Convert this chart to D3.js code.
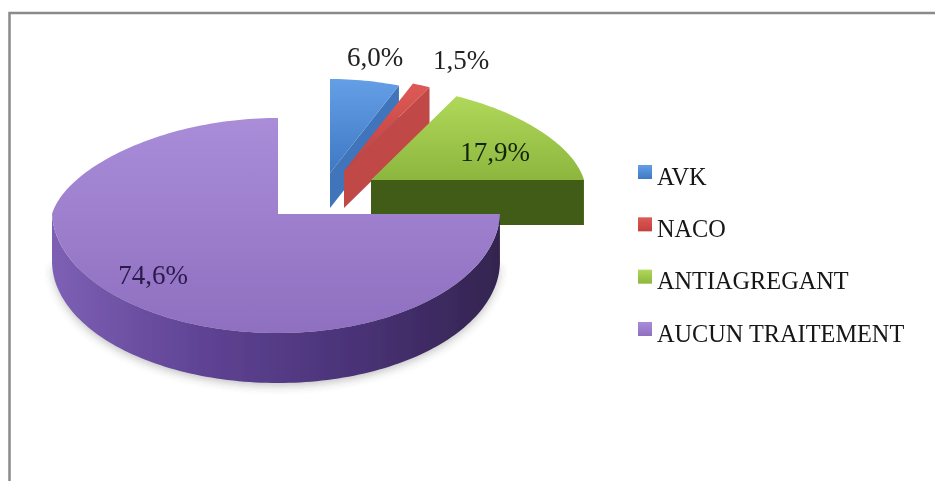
<!DOCTYPE html>
<html>
<head>
<meta charset="utf-8">
<script src="https://cdnjs.cloudflare.com/ajax/libs/d3/7.8.5/d3.min.js"></script>
<style>
  html, body { margin: 0; background: #fff; }
  svg { display: block; }
</style>
</head>
<body>
<div id="chart"></div>
<script>
const categories = ['AVK', 'NACO', 'ANTIAGREGANT', 'AUCUN TRAITEMENT'];
const shares = [6.0, 1.5, 17.9, 74.6];
const shareLabels = ['6,0%', '1,5%', '17,9%', '74,6%'];

// one entry per slice, same order as categories
const apexes = [[330, 173], [344, 171], [371, 180], [278, 214]];
const radiiX = [213, 213, 213, 222];
const radiiUp = [94, 94, 94, 96];
const depths = [35, 37, 45, 50];
const labelSpots = [[375, 66], [461, 69], [495, 161], [153, 284]];
const topColors = [['#649fe6', '#3f78c4'], ['#dc5a56', '#c2403e'], ['#b0d85a', '#8cb63e'], ['#a98dd9', '#8f6fc0']];
const wallColors = ['#3f74bc', '#c04846', '#3f5c12', '#5a3f8c'];

const width = 935;
const height = 481;
const radiusDown = 119;
const radiusLeft = 226;
const perspective = 0.13;
const flatten = 0.025;

const svg = d3.select('#chart')
  .append('svg')
  .attr('width', width)
  .attr('height', height)
  .attr('viewBox', `0 0 ${width} ${height}`)
  .attr('font-family', '"Liberation Serif", serif');

const defs = svg.append('defs');
defs.append('filter').attr('id', 'soft')
  .append('feGaussianBlur').attr('stdDeviation', 0.5);
defs.append('filter').attr('id', 'shadow')
  .append('feGaussianBlur').attr('stdDeviation', 4);

function gradient(id, stops, x2, y2) {
  const g = defs.append('linearGradient').attr('id', id)
    .attr('x1', 0).attr('y1', 0).attr('x2', x2).attr('y2', y2);
  stops.forEach((c, i) => {
    g.append('stop').attr('offset', i / (stops.length - 1)).attr('stop-color', c);
  });
}

topColors.forEach((c, i) => gradient(`top${i}`, c, 0, 1));
gradient('sideWall', ['#7d60b4', '#5f4394', '#4b3378', '#33244f'], 1, 0);

const pie = d3.pie().sort(null).value(d => d)(shares);

// flattened, slightly foreshortened view of the disc
function project(i, a, r = 1, drop = 0) {
  const [ax, ay] = apexes[i];
  const s = Math.sin(a);
  const c = Math.cos(a);
  const rx = s < 0 ? radiusLeft : radiiX[i];
  const squeeze = c > 0 ? 1 - perspective * c : 1;
  // the cut just past 90 degrees reads as a level edge in the picture
  const lift = c > 0 ? radiiUp[i] * c : radiusDown * Math.min(0, c + flatten) / (1 - flatten);
  return [ax + r * rx * s * squeeze, ay - r * lift + drop];
}

function arcPoints(i, a0, a1, drop = 0) {
  const n = Math.max(2, Math.ceil((a1 - a0) * 40));
  return d3.range(n + 1).map(k => project(i, a0 + (a1 - a0) * k / n, 1, drop));
}

const line = d3.line();
const chart = svg.append('g').attr('filter', 'url(#soft)');

// frame, only top and left show in the scan
chart.append('path')
  .attr('d', line([[9.5, height], [9.5, 13], [width, 13]]))
  .attr('fill', 'none')
  .attr('stroke', '#8a8a8a')
  .attr('stroke-width', 2.5);

const last = pie[3];
const wallStart = last.startAngle;
const wallEnd = 3 * Math.PI / 2;

chart.append('path')
  .attr('d', line(arcPoints(3, wallStart, wallEnd, 53)) + 'Z')
  .attr('fill', '#555')
  .attr('opacity', 0.35)
  .attr('filter', 'url(#shadow)');

pie.forEach((d, i) => {
  const apex = project(i, 0, 0);
  const outer = project(i, d.startAngle);
  const cutEnd = project(i, d.endAngle);

  if (i < 3) {
    // the cut face on the clockwise side looks towards the viewer
    chart.append('path')
      .attr('d', line([apex, cutEnd, [cutEnd[0], cutEnd[1] + depths[i]], [apex[0], apex[1] + depths[i]]]) + 'Z')
      .attr('fill', wallColors[i]);
  } else {
    const top = arcPoints(i, wallStart, wallEnd);
    const bottom = arcPoints(i, wallStart, wallEnd, depths[i]).reverse();
    chart.append('path')
      .attr('d', line(top.concat(bottom)) + 'Z')
      .attr('fill', 'url(#sideWall)');
  }

  chart.append('path')
    .attr('d', line([apex, outer, ...arcPoints(i, d.startAngle, d.endAngle)]) + 'Z')
    .attr('fill', `url(#top${i})`);
});

chart.selectAll('text.share')
  .data(shareLabels)
  .join('text')
  .attr('class', 'share')
  .attr('x', (d, i) => labelSpots[i][0])
  .attr('y', (d, i) => labelSpots[i][1])
  .attr('text-anchor', 'middle')
  .attr('font-size', 27)
  .attr('fill', (d, i) => i === 3 ? '#2a1a4a' : i === 2 ? '#14240a' : '#222')
  .text(d => d);

const legendY = d3.scalePoint().domain(categories).range([184.5, 341.5]);

const legend = chart.selectAll('g.legend')
  .data(categories)
  .join('g')
  .attr('class', 'legend')
  .attr('transform', d => `translate(0,${legendY(d)})`);

legend.append('rect')
  .attr('x', 638)
  .attr('y', -19.5)
  .attr('width', 14)
  .attr('height', 14)
  .attr('fill', (d, i) => `url(#top${i})`);

legend.append('text')
  .attr('x', 657)
  .attr('font-size', 24.3)
  .attr('fill', '#141414')
  .text(d => d);
</script>
</body>
</html>
